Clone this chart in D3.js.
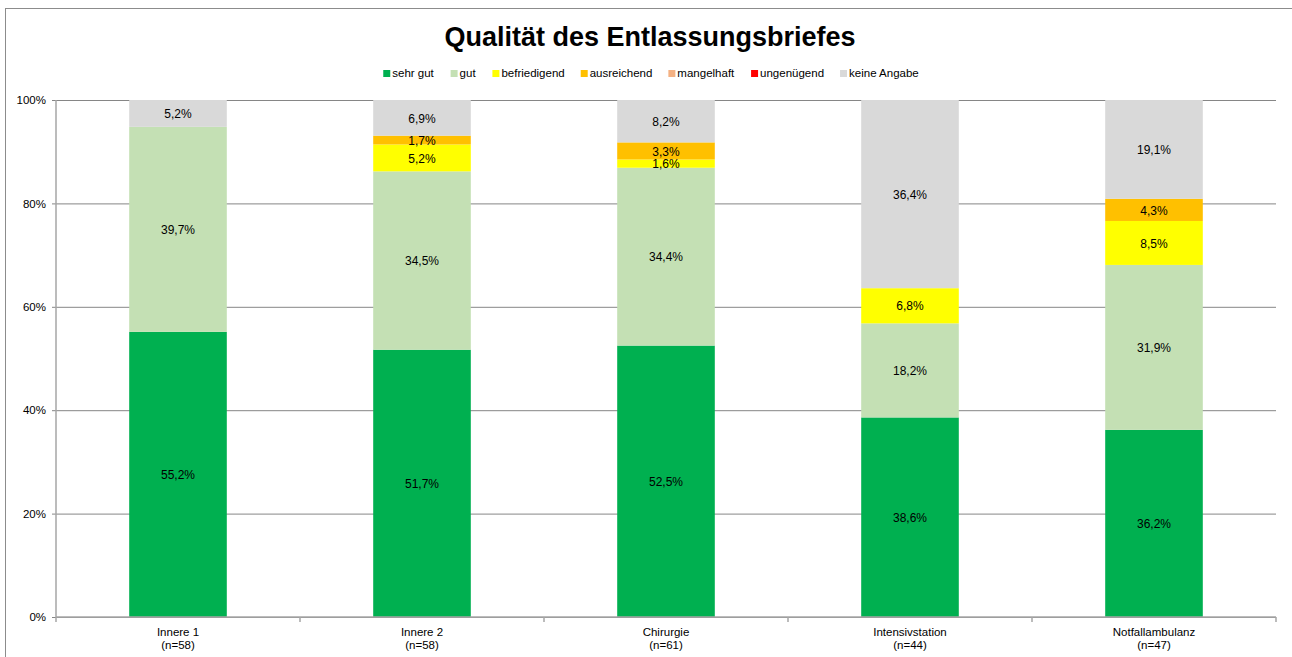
<!DOCTYPE html>
<html>
<head>
<meta charset="utf-8">
<script src="https://cdn.jsdelivr.net/npm/d3@7"></script>
<style>
  body { margin: 0; background: #fff; }
  svg { font-family: "Liberation Sans", Arial, sans-serif; display: block; }
</style>
</head>
<body>
<script>
const width = 1292;
const height = 657;

// data
const categories = ['Innere 1', 'Innere 2', 'Chirurgie', 'Intensivstation', 'Notfallambulanz'];
const counts = [58, 58, 61, 44, 47];
const seriesNames = ['sehr gut', 'gut', 'befriedigend', 'ausreichend', 'mangelhaft', 'ungenügend', 'keine Angabe'];
const seriesColors = ['#00B050', '#C4E0B4', '#FFFF00', '#FFC000', '#F4B183', '#FF0000', '#D9D9D9'];
const sehrGut = [55.2, 51.7, 52.5, 38.6, 36.2];
const gut = [39.7, 34.5, 34.4, 18.2, 31.9];
const befriedigend = [0, 5.2, 1.6, 6.8, 8.5];
const ausreichend = [0, 1.7, 3.3, 0, 4.3];
const mangelhaft = [0, 0, 0, 0, 0];
const ungenuegend = [0, 0, 0, 0, 0];
const keineAngabe = [5.2, 6.9, 8.2, 36.4, 19.1];
const yTicks = [0, 20, 40, 60, 80, 100];

const seriesValues = [sehrGut, gut, befriedigend, ausreichend, mangelhaft, ungenuegend, keineAngabe];

// table for d3.stack, normalised to 100% like the source chart
const table = categories.map((c, i) => {
  const row = { cat: c };
  const total = d3.sum(seriesValues, s => s[i]);
  seriesNames.forEach((n, k) => {
    row[n] = seriesValues[k][i] / total * 100;
    row[n + '_raw'] = seriesValues[k][i];
  });
  return row;
});

const margin = { top: 100, right: 16, bottom: 40, left: 56 };

const svg = d3.select('body').append('svg')
  .attr('width', width)
  .attr('height', height);

// outer frame
svg.append('rect')
  .attr('x', 5.5).attr('y', 8.5)
  .attr('width', width + 10).attr('height', height + 10)
  .attr('fill', 'none').attr('stroke', '#8c8c8c');

const x = d3.scaleBand()
  .domain(categories)
  .range([margin.left, width - margin.right])
  .paddingInner(0.6)
  .paddingOuter(0.3);

const y = d3.scaleLinear()
  .domain([0, 100])
  .range([height - margin.bottom, margin.top]);

// gridlines + y axis
const yAxis = d3.axisLeft(y)
  .tickValues(yTicks)
  .tickSize(-(width - margin.right - margin.left))
  .tickFormat(d => d + '%');

const gy = svg.append('g')
  .attr('transform', `translate(${margin.left},0)`)
  .call(yAxis);
gy.select('.domain').remove();
gy.selectAll('.tick line')
  .attr('x1', -4)
  .attr('stroke', '#868686');
gy.selectAll('.tick text')
  .attr('x', -10)
  .attr('fill', '#000')
  .attr('font-size', 11.5)
  .attr('font-family', '"Liberation Sans", Arial, sans-serif');

// stacked bars
const stack = d3.stack().keys(seriesNames);
const layers = stack(table);

const gBars = svg.append('g');
layers.forEach((layer, k) => {
  gBars.append('g')
    .attr('fill', seriesColors[k])
    .selectAll('rect')
    .data(layer)
    .join('rect')
    .attr('x', d => x(d.data.cat))
    .attr('width', x.bandwidth())
    .attr('y', d => y(d[1]))
    .attr('height', d => y(d[0]) - y(d[1]));
});

// value labels
layers.forEach((layer, k) => {
  gBars.append('g')
    .selectAll('text')
    .data(layer.filter(d => d.data[seriesNames[k] + '_raw'] > 0))
    .join('text')
    .attr('x', d => x(d.data.cat) + x.bandwidth() / 2)
    .attr('y', d => (y(d[0]) + y(d[1])) / 2 + 0.5)
    .attr('dy', '0.35em')
    .attr('text-anchor', 'middle')
    .attr('font-size', 12)
    .attr('fill', '#000')
    .text(d => d3.format('.1f')(d.data[seriesNames[k] + '_raw']).replace('.', ',') + '%');
});

// left axis line and x axis
svg.append('line')
  .attr('x1', margin.left).attr('x2', margin.left)
  .attr('y1', margin.top).attr('y2', y(0))
  .attr('stroke', '#a6a6a6').attr('stroke-width', 1.5);

const xAxis = d3.axisBottom(x).tickSize(0).tickFormat('');
const gx = svg.append('g')
  .attr('transform', `translate(0,${y(0)})`)
  .call(xAxis);
gx.select('.domain').attr('stroke', '#a6a6a6').attr('stroke-width', 1.5)
  .attr('d', `M${margin.left},0H${width - margin.right}`);

// category boundary ticks
const bounds = d3.range(categories.length + 1).map(i => margin.left + i * (width - margin.right - margin.left) / categories.length);
gx.selectAll('.bound')
  .data(bounds)
  .join('line')
  .attr('class', 'bound')
  .attr('x1', d => d).attr('x2', d => d)
  .attr('y1', 0).attr('y2', 5)
  .attr('stroke', '#a6a6a6').attr('stroke-width', 1.5);

const labels = svg.append('g')
  .selectAll('text')
  .data(categories)
  .join('text')
  .attr('text-anchor', 'middle')
  .attr('font-size', 11.5)
  .attr('fill', '#000')
  .attr('x', d => x(d) + x.bandwidth() / 2)
  .attr('y', y(0) + 19);
labels.append('tspan').text(d => d);
labels.append('tspan')
  .attr('x', d => x(d) + x.bandwidth() / 2)
  .attr('dy', 13)
  .text((d, i) => `(n=${counts[i]})`);

// title
svg.append('text')
  .attr('x', 650).attr('y', 46)
  .attr('text-anchor', 'middle')
  .attr('font-size', 27)
  .attr('font-weight', 'bold')
  .text('Qualität des Entlassungsbriefes');

// legend
const legend = svg.append('g');
const items = legend.selectAll('g')
  .data(seriesNames)
  .join('g');
items.append('rect')
  .attr('width', 7).attr('height', 7)
  .attr('y', -7)
  .attr('fill', (d, i) => seriesColors[i]);
items.append('text')
  .attr('x', 9)
  .attr('font-size', 11.5)
  .text(d => d);

let cursor = 0;
items.each(function () {
  const w = this.getBBox().width;
  d3.select(this).attr('transform', `translate(${cursor},0)`);
  cursor += w + 16;
});
const legendWidth = cursor - 16;
legend.attr('transform', `translate(${651 - legendWidth / 2},77)`);
</script>
</body>
</html>
